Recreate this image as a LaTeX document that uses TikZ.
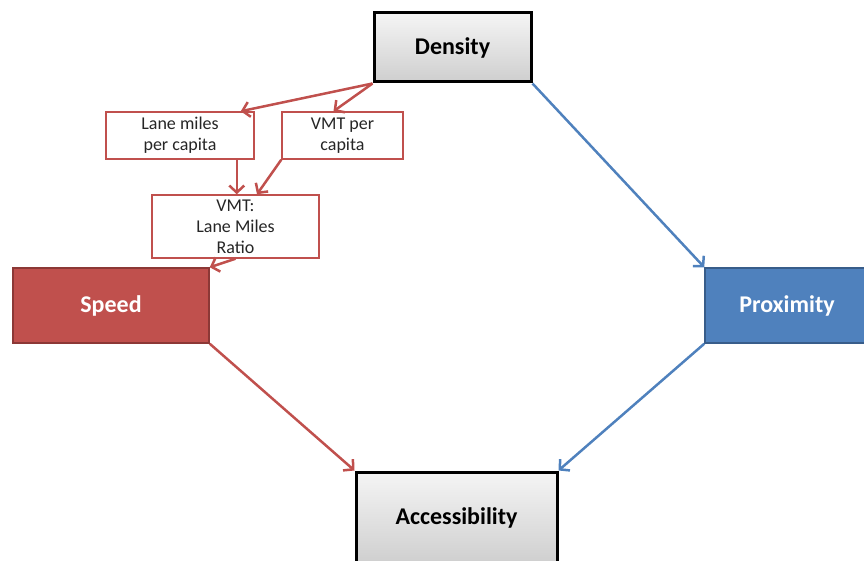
\documentclass[tikz,border=0pt]{standalone}
\usepackage{fontspec}
\setmainfont{Carlito}
\usepackage{tikz}
\usetikzlibrary{shapes,arrows.meta}
\definecolor{offred}{HTML}{C0504D}
\definecolor{offreddark}{HTML}{8C3836}
\definecolor{offblue}{HTML}{4F81BD}
\definecolor{offbluedark}{HTML}{385D8A}
\definecolor{boxtext}{HTML}{262626}
\tikzstyle{factor} = [rectangle, draw=black, line width=3pt, top color=gray!8,
    bottom color=gray!38, text=black, font=\fontsize{24}{28}\selectfont\bfseries]
\tikzstyle{mode} = [rectangle, line width=1.5pt, text=white,
    font=\fontsize{24}{28}\selectfont\bfseries]
\tikzstyle{measure} = [rectangle, draw=offred, line width=1.5pt, fill=white,
    text=boxtext, align=center, font=\fontsize{18}{21}\selectfont]
\tikzstyle{redline} = [draw=offred, line width=2.5pt, -{Straight Barb[length=7pt,width=15pt]}]
\tikzstyle{blueline} = [draw=offblue, line width=2.5pt, -{Straight Barb[length=7pt,width=15pt]}]

\begin{document}
\begin{tikzpicture}[x=1pt, y=-1pt]
    \useasboundingbox (0,0) rectangle (864,561);
    \clip (0,0) rectangle (864,561);
    % Place nodes
    % Outer factors
    \node [factor, minimum width=157pt, minimum height=69pt] (density) at (452.5,47.5) {Density};
    \node [factor, minimum width=201pt, minimum height=92pt] (access) at (456.5,518) {Accessibility};
    \node [mode, draw=offreddark, fill=offred, minimum width=196pt, minimum height=75pt] (speed) at (111,305.5) {Speed};
    \node [mode, draw=offbluedark, fill=offblue, minimum width=164pt, minimum height=75pt] (proximity) at (787,305.5) {Proximity};

    % Measures
    \node [measure, minimum width=148pt, minimum height=47pt] (lanecap) at (180,135.5) {Lane miles\\per capita};
    \node [measure, minimum width=121pt, minimum height=47pt] (vmtcap) at (342.5,135.5) {VMT per\\capita};
    \node [measure, minimum width=167pt, minimum height=63pt] (ratio) at (235.5,226.5) {VMT:\\Lane Miles\\Ratio};

    % Draw edges
    % Density to measures
    \path [redline] (density.south west) -- ([xshift=-14pt]lanecap.north east);
    \path [redline] (density.south west) -- ([xshift=-9pt]vmtcap.north);
    \path [redline] ([xshift=-18pt]lanecap.south east) -- ([xshift=-18pt]lanecap.south east |- ratio.north);
    \path [redline] (vmtcap.south west) -- ([xshift=21.5pt]ratio.north);
    \path [redline] (ratio.south) -- (speed.north east);

    % Towards accessibility
    \path [blueline] (density.south east) -- (proximity.north west);
    \path [redline] (speed.south east) -- (access.north west);
    \path [blueline] (proximity.south west) -- (access.north east);

\end{tikzpicture}
\end{document}
